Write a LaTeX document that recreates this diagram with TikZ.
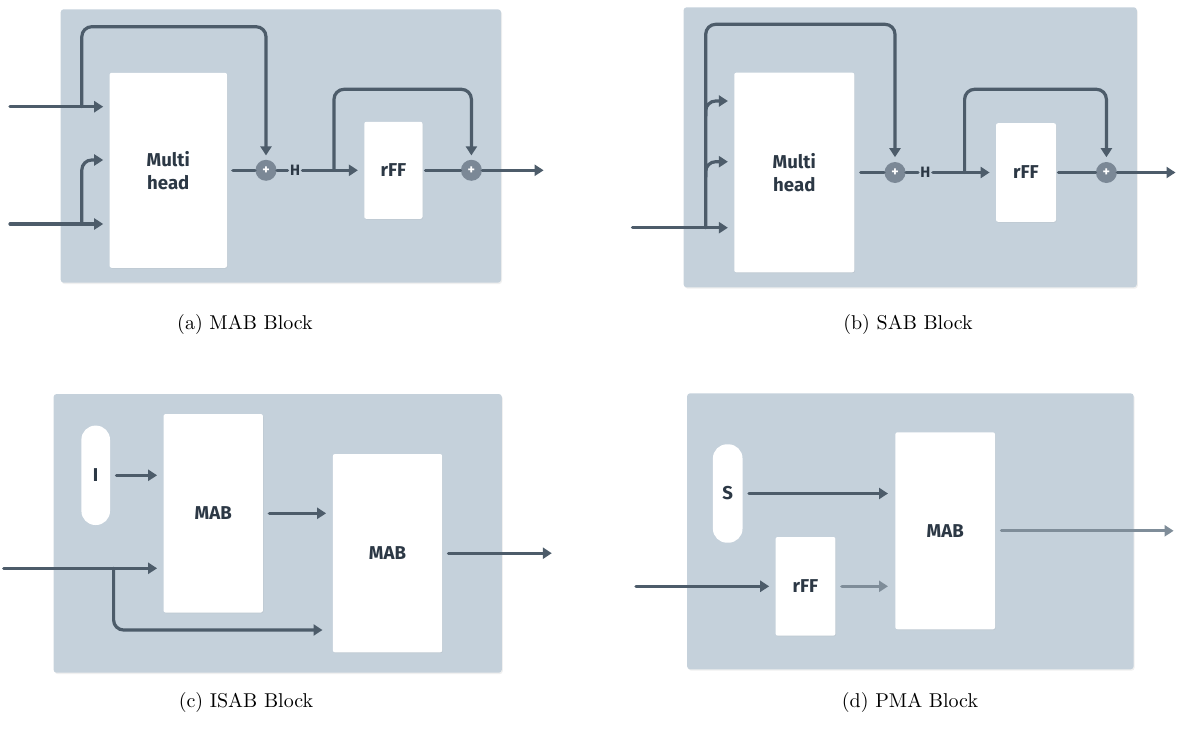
\documentclass[tikz,border=0pt]{standalone}
\usepackage{fontspec}
\newfontfamily\labfont{Fira Sans}
\usetikzlibrary{arrows.meta,shadows}
\definecolor{bgc}{HTML}{C5D1DB}
\definecolor{lnc}{HTML}{4D5C6A}
\definecolor{lightln}{HTML}{7F8D99}
\definecolor{circc}{HTML}{7B8896}
\definecolor{txtc}{HTML}{2C3845}
\tikzset{
  bgpanel/.style={fill=bgc, rounded corners=1.5pt, drop shadow={shadow xshift=0.5pt,shadow yshift=-0.7pt,opacity=0.12}},
  blk/.style={fill=white, rounded corners=1pt, inner sep=0pt, text=txtc, align=center,
    font=\labfont\bfseries\fontsize{9.3}{11.5}\selectfont,
    drop shadow={shadow xshift=0.3pt,shadow yshift=-0.4pt,opacity=0.10}},
  pill/.style={fill=white, rounded corners=7pt, inner sep=0pt, text=txtc,
    font=\labfont\bfseries\fontsize{9.3}{11.5}\selectfont},
  pl/.style={circle, fill=circc, minimum size=10.5pt, inner sep=0pt, text=white,
    font=\labfont\bfseries\fontsize{7}{7}\selectfont},
  hl/.style={inner sep=1pt, text=txtc, font=\labfont\bfseries\fontsize{7.5}{8}\selectfont},
  ln/.style={draw=lnc, line width=1.6pt, line cap=round},
  ar/.style={ln, -{Triangle[length=4.5pt,width=5.5pt]}},
  la/.style={ar, draw=lightln},
  captext/.style={inner sep=0pt, font=\fontsize{10}{12}\selectfont}
}
\begin{document}
\begin{tikzpicture}[x=0.5pt,y=-0.5pt]
\useasboundingbox (0,0) rectangle (1177,738);

% ---------- (a) MAB ----------
\path[bgpanel] (60.7,9.3) rectangle (501,282.7);
\node[blk, minimum width=58.7pt, minimum height=97.5pt] (mhA) at (168.3,170.3) {Multi\\head};
\node[blk, minimum width=29.1pt, minimum height=48.5pt] (rffA) at (393.4,170.3) {rFF};
\node[pl] (cA1) at (266,170.3) {+};
\node[hl] (hA) at (295,170.3) {H};
\node[pl] (cA2) at (471.4,170.3) {+};
\coordinate (inQA) at (10,106.7);
\coordinate (inVA) at (10,224);
\coordinate (brQA) at (81.8,106.7);
\coordinate (brVA) at (81.8,224);
\coordinate (topA) at (81.8,26.7);
\coordinate (kA) at (81.8,160);
\coordinate (brHA) at (334,170.3);
\coordinate (topA2) at (334,89.3);
\coordinate (outA) at (543.6,170.3);
\draw[ar, shorten >=3pt] (inQA) -- (inQA -| mhA.west);
\draw[ar, shorten >=3pt] (inVA) -- (inVA -| mhA.west);
\draw[ar, rounded corners=5pt, shorten >=2pt] (brQA) -- (topA) -| (cA1.north);
\draw[ar, rounded corners=5pt, shorten >=3pt] (brVA) |- (kA -| mhA.west);
\draw[ln] ([xshift=2.7pt]mhA.east) -- (cA1);
\draw[ln] (cA1) -- (hA);
\draw[ar, shorten >=3pt] (hA) -- (rffA);
\draw[ar, rounded corners=5pt, shorten >=2pt] (brHA) -- (topA2) -| (cA2.north);
\draw[ln] ([xshift=1.3pt]rffA.east) -- (cA2);
\draw[ar] (cA2) -- (outA);

% ---------- (b) SAB ----------
\path[bgpanel] (683.6,7.3) rectangle (1136.8,287.3);
\node[blk, minimum width=60pt, minimum height=99.8pt] (mhB) at (794.3,172.5) {Multi\\head};
\node[blk, minimum width=30pt, minimum height=49.3pt] (rffB) at (1026,172.5) {rFF};
\node[pl] (cB1) at (895,172.5) {+};
\node[hl] (hB) at (925.4,172.5) {H};
\node[pl] (cB2) at (1106.4,172.5) {+};
\coordinate (inB) at (632.5,227.7);
\coordinate (vB) at (705.7,227.7);
\coordinate (topB) at (705.7,24.3);
\coordinate (b1s) at (705.7,116);
\coordinate (b2s) at (705.7,177);
\coordinate (k1B) at (705.7,101);
\coordinate (k2B) at (705.7,161.7);
\coordinate (brHB) at (964.6,172.5);
\coordinate (topB2) at (964.6,89.3);
\coordinate (outB) at (1175.5,172.5);
\draw[ar, shorten >=3pt] (inB) -- (inB -| mhB.west);
\draw[ar, rounded corners=5pt, shorten >=2.2pt] (vB) -- (topB) -| (cB1.north);
\draw[ar, rounded corners=5pt, shorten >=3pt] (b1s) |- (k1B -| mhB.west);
\draw[ar, rounded corners=5pt, shorten >=3pt] (b2s) |- (k2B -| mhB.west);
\draw[ln] ([xshift=3pt]mhB.east) -- (cB1);
\draw[ln] (cB1) -- (hB);
\draw[ar, shorten >=3pt] (hB) -- (rffB);
\draw[ar, rounded corners=5pt, shorten >=2.2pt] (brHB) -- (topB2) -| (cB2.north);
\draw[ln] ([xshift=1pt]rffB.east) -- (cB2);
\draw[ar] (cB2) -- (outB);

% ---------- (c) ISAB ----------
\path[bgpanel] (53.6,394) rectangle (501.8,672.7);
\node[pill, minimum width=14.3pt, minimum height=49.7pt] (pI) at (95.7,475.3) {I};
\node[blk, minimum width=49.7pt, minimum height=99.2pt] (mab1) at (213.2,513.3) {MAB};
\node[blk, minimum width=54.6pt, minimum height=99.2pt] (mab2) at (387.5,553.2) {MAB};
\coordinate (inC) at (3.6,568.3);
\coordinate (brC) at (113.6,568.3);
\coordinate (botC) at (113.6,630);
\coordinate (outC) at (551.8,553.2);
\draw[ar, shorten <=3pt, shorten >=3pt] (pI) -- (pI -| mab1.west);
\draw[ar, shorten <=3pt, shorten >=3.2pt] (mab1) -- (mab1 -| mab2.west);
\draw[ar, shorten >=3pt] (inC) -- (inC -| mab1.west);
\draw[ar, rounded corners=5pt, shorten >=5pt] (brC) |- (botC -| mab2.west);
\draw[ar, shorten <=3pt] (mab2) -- (outC);

% ---------- (d) PMA ----------
\path[bgpanel] (687.1,393.3) rectangle (1133.6,669.3);
\node[pill, minimum width=14.8pt, minimum height=49.2pt] (pS) at (727.7,493.5) {S};
\node[blk, minimum width=49.8pt, minimum height=98.5pt] (mabD) at (945.2,530.8) {MAB};
\node[blk, minimum width=29.9pt, minimum height=49.3pt] (rffD) at (805.5,586.3) {rFF};
\coordinate (inD) at (636,586.3);
\coordinate (outD) at (1173.6,530.8);
\draw[ar, shorten <=3pt, shorten >=3.5pt] (pS) -- (pS -| mabD.west);
\draw[ar, shorten >=3pt] (inD) -- (inD -| rffD.west);
\draw[la, shorten <=3pt, shorten >=3.5pt] (rffD) -- (rffD -| mabD.west);
\draw[la, shorten <=3pt] (mabD) -- (outD);

% ---------- captions ----------
\node[captext] (capA) at (245,324) {(a) MAB Block};
\node[captext] (capB) at (908,324) {(b) SAB Block};
\node[captext] (capC) at (246,702) {(c) ISAB Block};
\node[captext] (capD) at (910,702) {(d) PMA Block};
\end{tikzpicture}
\end{document}
